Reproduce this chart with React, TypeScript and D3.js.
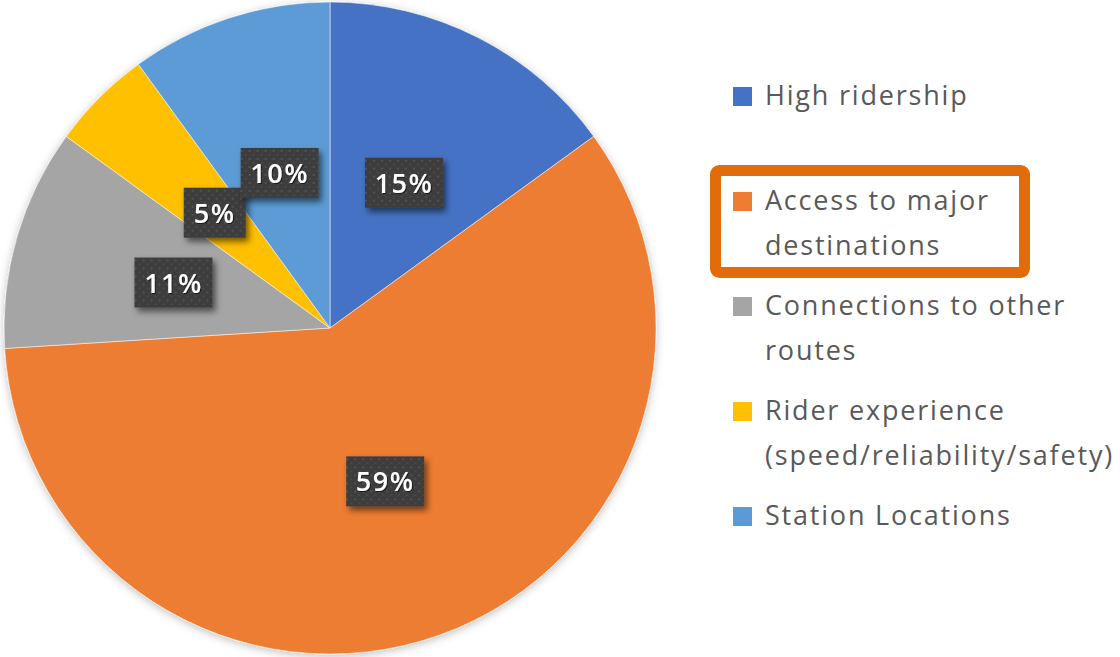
import React from "react";
import * as d3 from "d3";

const categories = [
  "High ridership",
  "Access to major destinations",
  "Connections to other routes",
  "Rider experience (speed/reliability/safety)",
  "Station Locations",
];
const values = [15, 59, 11, 5, 10];
const colors = ["#4472C4", "#ED7D31", "#A5A5A5", "#FFC000", "#5B9BD5"];
const legendLines = [
  ["High ridership"],
  ["Access to major", "destinations"],
  ["Connections to other", "routes"],
  ["Rider experience", "(speed/reliability/safety)"],
  ["Station Locations"],
];
const highlighted = 1;

const W = 1120;
const H = 657;
const cx = 330;
const cy = 328;
const R = 326;

export default function App() {
  const pie = d3.pie<number>().sort(null).value((d) => d);
  const arcs = pie(values);
  const arc = d3.arc<d3.PieArcDatum<number>>().innerRadius(0).outerRadius(R);
  const total = d3.sum(values);
  const fmt = (v: number) => `${Math.round((v / total) * 100)}%`;

  const legendX = 733;
  const textX = 765;
  const lineH = 45;
  const firstBaseline = 105;
  const entryGap = 105;
  const font = "'Open Sans', 'DejaVu Sans', sans-serif";

  return (
    <svg
      width={W}
      height={H}
      style={{ position: "absolute", left: 0, top: 0, background: "#fff" }}
      fontFamily={font}
    >
      <defs>
        <filter id="pieShadow" x="-10%" y="-10%" width="120%" height="120%">
          <feDropShadow dx="0" dy="2" stdDeviation="4" floodColor="#000" floodOpacity="0.25" />
        </filter>
        <filter id="lblShadow" x="-20%" y="-20%" width="150%" height="160%">
          <feDropShadow dx="3" dy="4" stdDeviation="3" floodColor="#000" floodOpacity="0.55" />
        </filter>
        <filter id="txtShadow" x="-10%" y="-10%" width="130%" height="130%">
          <feDropShadow dx="1" dy="1" stdDeviation="0.6" floodColor="#000" floodOpacity="0.6" />
        </filter>
        <pattern id="dots" width="8" height="8" patternUnits="userSpaceOnUse">
          <rect width="8" height="8" fill="#3d3d3d" />
          <circle cx="2" cy="2" r="0.9" fill="#5a5a5a" />
          <circle cx="6" cy="6" r="0.9" fill="#4f4f4f" />
        </pattern>
      </defs>

      <g transform={`translate(${cx},${cy})`}>
        <g filter="url(#pieShadow)">
          {arcs.map((a, i) => (
            <path key={i} d={arc(a) || ""} fill={colors[i]} stroke="#fff" strokeOpacity={0.5} strokeWidth={1} />
          ))}
        </g>
        {arcs.map((a, i) => {
          const [lx, ly] = arc.centroid(a);
          const label = fmt(values[i]);
          const bw = label.length >= 3 ? 78 : 62;
          const bh = 50;
          return (
            <g key={"l" + i} transform={`translate(${lx},${ly})`}>
              <rect x={-bw / 2} y={-bh / 2} width={bw} height={bh} fill="url(#dots)" filter="url(#lblShadow)" />
              <text
                textAnchor="middle"
                y={10}
                fontSize={27}
                fontWeight={600}
                letterSpacing={1.5}
                fill="#fff"
                filter="url(#txtShadow)"
              >
                {label}
              </text>
            </g>
          );
        })}
      </g>

      <g>
        {legendLines.map((lines, i) => {
          const baseline = firstBaseline + i * entryGap;
          return (
            <g key={"lg" + i}>
              <rect x={legendX} y={baseline - 18} width={19} height={19} fill={colors[i]} />
              {lines.map((t, j) => (
                <text
                  key={j}
                  x={textX}
                  y={baseline + j * lineH}
                  fontSize={27}
                  letterSpacing={1.8}
                  fill="#595959"
                >
                  {t}
                </text>
              ))}
            </g>
          );
        })}
        <rect
          x={715.5}
          y={170.5}
          width={309}
          height={102}
          rx={4}
          fill="none"
          stroke="#E36C0A"
          strokeWidth={11}
        />
      </g>
    </svg>
  );
}
